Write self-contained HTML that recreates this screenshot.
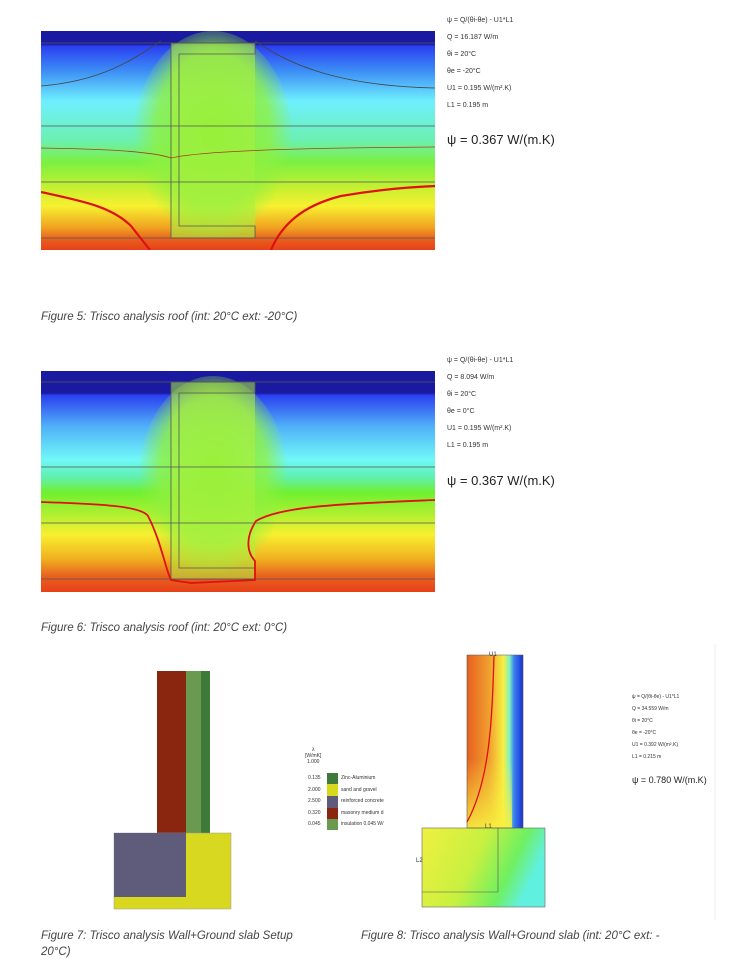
<!DOCTYPE html>
<html><head><meta charset="utf-8"><style>
body{margin:0;background:#fff;width:742px;height:978px;position:relative;overflow:hidden;font-family:"Liberation Sans",sans-serif}
.t{position:absolute;font-size:7px;color:#333;white-space:nowrap}
.psi{position:absolute;font-size:13px;color:#222;white-space:nowrap}
.cap{position:absolute;font-size:11.5px;font-style:italic;color:#444;white-space:nowrap}
svg{position:absolute}
</style></head><body>

<svg style="left:41px;top:31px" width="394" height="219" viewBox="0 0 394 219">
<defs>
<linearGradient id="g5" x1="0" y1="0" x2="0" y2="1">
<stop offset="0" stop-color="#1a1aa0"/><stop offset="0.06" stop-color="#1a1aa0"/>
<stop offset="0.07" stop-color="#2a40f0"/><stop offset="0.18" stop-color="#3c8cf5"/>
<stop offset="0.32" stop-color="#6ef0ff"/><stop offset="0.5" stop-color="#6cf0b0"/>
<stop offset="0.6" stop-color="#7cf040"/><stop offset="0.72" stop-color="#c8f030"/>
<stop offset="0.8" stop-color="#f8f030"/><stop offset="0.9" stop-color="#f0a020"/>
<stop offset="0.95" stop-color="#e86020"/><stop offset="1" stop-color="#e84018"/>
</linearGradient>
<radialGradient id="c5" cx="0.5" cy="0.45" r="0.5"><stop offset="0" stop-color="#80f030"/><stop offset="0.7" stop-color="#90f040" stop-opacity="0.8"/><stop offset="1" stop-color="#90f040" stop-opacity="0"/></radialGradient>
</defs>
<rect width="394" height="219" fill="url(#g5)"/>
<ellipse cx="172" cy="110" rx="80" ry="110" fill="url(#c5)"/>
<rect x="130" y="12" width="84" height="195" fill="#a8f040" opacity="0.6"/>
<g stroke="#555" stroke-width="0.8" fill="none">
<line x1="0" y1="12" x2="394" y2="12"/><line x1="0" y1="95" x2="394" y2="95"/><line x1="0" y1="151" x2="394" y2="151"/><line x1="0" y1="207" x2="394" y2="207"/>
<path d="M130 12H214V23H138V195H214V207H130Z"/>
<path d="M0 55 C60 50 90 30 120 10 M214 10 C250 35 300 55 394 57" stroke="#444"/>
<path d="M0 117 C60 118 110 120 130 127 C160 120 250 117 394 116" stroke="#a04020"/>
</g>
<path d="M0 161 C40 170 70 175 90 195 L109 219 M230 219 C240 195 260 175 300 165 C340 158 370 156 394 155" stroke="#e01010" stroke-width="2.2" fill="none"/>
</svg>
<div class="t" style="left:447px;top:17px">ψ = Q/(θi-θe) - U1*L1</div>
<div class="t" style="left:447px;top:34px">Q = 16.187 W/m</div>
<div class="t" style="left:447px;top:51px">θi = 20°C</div>
<div class="t" style="left:447px;top:68px">θe = -20°C</div>
<div class="t" style="left:447px;top:85px">U1 = 0.195 W/(m².K)</div>
<div class="t" style="left:447px;top:102px">L1 = 0.195 m</div>
<div class="psi" style="left:447px;top:132px">ψ = 0.367 W/(m.K)</div>
<div class="cap" style="left:41px;top:311px">Figure 5: Trisco analysis roof (int: 20°C ext: -20°C)</div>

<svg style="left:41px;top:371px" width="394" height="221" viewBox="0 0 394 221">
<defs>
<linearGradient id="g6" x1="0" y1="0" x2="0" y2="1">
<stop offset="0" stop-color="#1a1aa0"/><stop offset="0.1" stop-color="#1a1aa0"/>
<stop offset="0.11" stop-color="#2a40f0"/><stop offset="0.25" stop-color="#50b0f8"/>
<stop offset="0.4" stop-color="#70f8f8"/><stop offset="0.48" stop-color="#60f0b0"/>
<stop offset="0.55" stop-color="#70f030"/><stop offset="0.65" stop-color="#b0f030"/>
<stop offset="0.74" stop-color="#f8f030"/><stop offset="0.85" stop-color="#f0b020"/>
<stop offset="0.93" stop-color="#e86020"/><stop offset="1" stop-color="#e84018"/>
</linearGradient>
</defs>
<rect width="394" height="221" fill="url(#g6)"/>
<ellipse cx="172" cy="110" rx="75" ry="105" fill="url(#c5)"/>
<rect x="130" y="11" width="84" height="197" fill="#b0f040" opacity="0.55"/>
<g stroke="#555" stroke-width="0.8" fill="none">
<line x1="0" y1="11" x2="394" y2="11"/><line x1="0" y1="96" x2="394" y2="96"/><line x1="0" y1="152" x2="394" y2="152"/><line x1="0" y1="208" x2="394" y2="208"/>
<path d="M130 11H214V22H138V197H214V208H130Z"/>
</g>
<path d="M0 131 C60 133 100 135 107 145 C120 170 125 200 130 209 L150 212 L214 209 L214 190 C205 180 205 165 215 150 C240 135 300 133 394 129" stroke="#e01010" stroke-width="1.8" fill="none"/>
</svg>
<div class="t" style="left:447px;top:357px">ψ = Q/(θi-θe) - U1*L1</div>
<div class="t" style="left:447px;top:374px">Q = 8.094 W/m</div>
<div class="t" style="left:447px;top:391px">θi = 20°C</div>
<div class="t" style="left:447px;top:408px">θe = 0°C</div>
<div class="t" style="left:447px;top:425px">U1 = 0.195 W/(m².K)</div>
<div class="t" style="left:447px;top:442px">L1 = 0.195 m</div>
<div class="psi" style="left:447px;top:473px">ψ = 0.367 W/(m.K)</div>
<div class="cap" style="left:41px;top:622px">Figure 6: Trisco analysis roof (int: 20°C ext: 0°C)</div>

<svg style="left:0;top:640px" width="742" height="300" viewBox="0 640 742 300">
<rect x="157" y="671" width="29" height="162" fill="#8a2510"/>
<rect x="186" y="671" width="15" height="162" fill="#6a9a50"/>
<rect x="201" y="671" width="9" height="162" fill="#3f7a3a"/>
<rect x="114" y="833" width="117" height="76" fill="#d8d820" stroke="#999" stroke-width="0.5"/>
<rect x="114" y="833" width="72" height="64" fill="#5e5c7a"/>
<rect x="327" y="773" width="11" height="11" fill="#3f7a3a"/>
<rect x="327" y="784" width="11" height="12" fill="#d8d820"/>
<rect x="327" y="796" width="11" height="12" fill="#5e5c7a"/>
<rect x="327" y="808" width="11" height="11" fill="#8a2510"/>
<rect x="327" y="819" width="11" height="11" fill="#6a9a50"/>
<defs>
<linearGradient id="w8" x1="0" y1="0" x2="1" y2="0">
<stop offset="0" stop-color="#e86020"/><stop offset="0.4" stop-color="#f0a030"/><stop offset="0.65" stop-color="#f8f040"/>
<stop offset="0.76" stop-color="#80f0c0"/><stop offset="0.84" stop-color="#3a80f0"/><stop offset="1" stop-color="#1a30d0"/></linearGradient>
<linearGradient id="f8" x1="0" y1="0" x2="1" y2="0.3">
<stop offset="0" stop-color="#f0f040"/><stop offset="0.5" stop-color="#c8f040"/><stop offset="0.8" stop-color="#70f060"/><stop offset="1" stop-color="#60f0e0"/></linearGradient>
<linearGradient id="v8" x1="0" y1="0" x2="0" y2="1"><stop offset="0" stop-color="#fff" stop-opacity="0"/><stop offset="0.6" stop-color="#f8f040" stop-opacity="0"/><stop offset="1" stop-color="#f8f040" stop-opacity="0.9"/></linearGradient>
</defs>
<rect x="467" y="655" width="56" height="173" fill="url(#w8)"/>
<rect x="467" y="655" width="45" height="173" fill="url(#v8)"/>
<rect x="422" y="828" width="123" height="79" fill="url(#f8)" stroke="#666" stroke-width="0.6"/>
<path d="M422 892H498V828" stroke="#555" stroke-width="0.6" fill="none"/>
<path d="M467 655H523V828H467Z" stroke="#555" stroke-width="0.6" fill="none"/>
<path d="M494 656 C492 720 490 780 467 822" stroke="#e01010" stroke-width="1.3" fill="none"/>
<line x1="715" y1="644" x2="715" y2="920" stroke="#eee" stroke-width="1"/>
<text x="489" y="656" font-size="6" fill="#333" font-family="Liberation Sans">U1</text>
<text x="485" y="828" font-size="6" fill="#333" font-family="Liberation Sans">L1</text>
<text x="416" y="862" font-size="6" fill="#333" font-family="Liberation Sans">L2</text>
</svg>
<div class="t" style="left:305px;top:747px;font-size:5px;line-height:6px;text-align:center">λ<br>[W/mK]<br>1.000</div>
<div class="t" style="left:308px;top:775px;font-size:5px">0.135</div><div class="t" style="left:341px;top:775px;font-size:5px">Zinc-Aluminium</div>
<div class="t" style="left:308px;top:787px;font-size:5px">2.000</div><div class="t" style="left:341px;top:787px;font-size:5px">sand and gravel</div>
<div class="t" style="left:308px;top:798px;font-size:5px">2.500</div><div class="t" style="left:341px;top:798px;font-size:5px">reinforced concrete</div>
<div class="t" style="left:308px;top:810px;font-size:5px">0.320</div><div class="t" style="left:341px;top:810px;font-size:5px">masonry medium d</div>
<div class="t" style="left:308px;top:821px;font-size:5px">0.045</div><div class="t" style="left:341px;top:821px;font-size:5px">insulation 0.045 W/</div>
<div class="t" style="left:632px;top:694px;font-size:5px">ψ = Q/(θi-θe) - U1*L1</div>
<div class="t" style="left:632px;top:706px;font-size:5px">Q = 34.559 W/m</div>
<div class="t" style="left:632px;top:718px;font-size:5px">θi = 20°C</div>
<div class="t" style="left:632px;top:730px;font-size:5px">θe = -20°C</div>
<div class="t" style="left:632px;top:742px;font-size:5px">U1 = 0.392 W/(m².K)</div>
<div class="t" style="left:632px;top:754px;font-size:5px">L1 = 0.215 m</div>
<div class="psi" style="left:632px;top:775px;font-size:9px">ψ = 0.780 W/(m.K)</div>
<div class="cap" style="left:41px;top:930px">Figure 7: Trisco analysis Wall+Ground slab Setup</div>
<div class="cap" style="left:41px;top:946px">20°C)</div>
<div class="cap" style="left:361px;top:930px">Figure 8: Trisco analysis Wall+Ground slab (int: 20°C ext: -</div>
</body></html>
